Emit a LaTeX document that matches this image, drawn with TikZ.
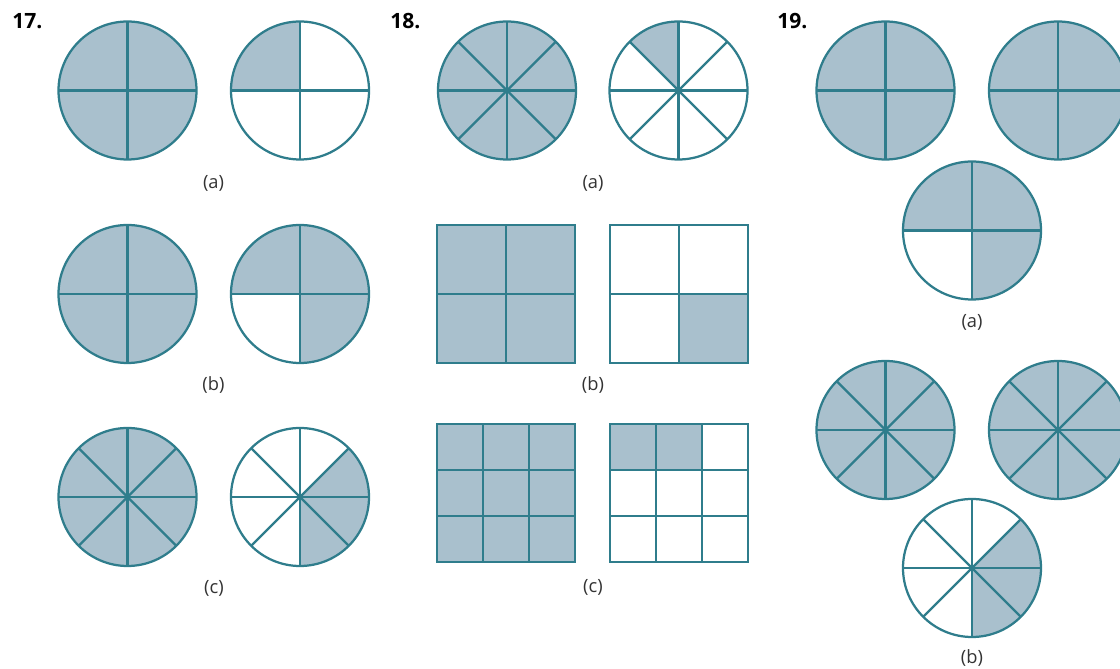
\documentclass[tikz,border=0pt]{standalone}
\usepackage{fontspec}
\setmainfont{Open Sans}
\definecolor{rim}{HTML}{2F7D8C}
\definecolor{part}{HTML}{A9C0CD}
\definecolor{lbl}{HTML}{333333}
\begin{document}
\begin{tikzpicture}[x=0.025cm, y=0.025cm,
    rim line/.style={draw=rim, line width=1.6pt},
    part fill/.style={fill=part},
    num/.style={font=\fontsize{15}{15}\selectfont\bfseries, text=black, anchor=west, inner sep=0pt},
    sub/.style={font=\fontsize{13}{13}\selectfont, text=lbl, inner sep=0pt} ]
    \useasboundingbox (0,0) rectangle (1120,669);
    \clip (0,0) rectangle (1120,669);
    % pies: centre / parts / shaded from / shaded to
    \foreach \cx/\cy/\k/\a/\b in {127.5/578.5/4/0/360, 300/578.5/4/90/180,
        127.5/375/4/0/360, 300/375/4/-90/180,
        127.5/172/8/0/360, 300/172/8/-90/45,
        507/578.5/8/0/360, 678.5/578.5/8/90/135,
        885.5/578.5/4/0/360, 1058/578.5/4/0/360, 972/438.5/4/-90/180,
        885.5/239/8/0/360, 1058/239/8/0/360, 972/101/8/-90/45} {
      \fill [part fill] (\cx,\cy) -- ++(\a:69) arc[start angle=\a, end angle=\b, radius=69] -- cycle;
      \foreach \i in {1,...,\k}
        \draw [rim line] (\cx,\cy) -- ++({360/\k*\i}:69);
      \draw [rim line] (\cx,\cy) circle (69);
    }
    % squares
    \fill [part fill] (437,306) rectangle (575,444);
    \fill [part fill] (679,306) rectangle (748,375);
    \fill [part fill] (437,107) rectangle (575,245);
    \fill [part fill] (610,199) rectangle (702,245);
    \draw [rim line, shift={(437,306)}] (0,0) grid[step=1.725cm] (138,138);
    \draw [rim line, shift={(610,306)}] (0,0) grid[step=1.725cm] (138,138);
    \draw [rim line, shift={(437,107)}] (0,0) grid[step=1.15cm] (138,138);
    \draw [rim line, shift={(610,107)}] (0,0) grid[step=1.15cm] (138,138);
    \draw [rim line] (437,306) rectangle (575,444);
    \draw [rim line] (610,306) rectangle (748,444);
    \draw [rim line] (437,107) rectangle (575,245);
    \draw [rim line] (610,107) rectangle (748,245);
    % numbers and labels
    \node at (12,648) [num] (n17) {17.};
    \node at (390,648) [num] (n18) {18.};
    \node at (777,648) [num] (n19) {19.};
    \node at (213.5,486) [sub] (a17) {(a)};
    \node at (213.5,284) [sub] (b17) {(b)};
    \node at (214,81) [sub] (c17) {(c)};
    \node at (593,486) [sub] (a18) {(a)};
    \node at (593,284) [sub] (b18) {(b)};
    \node at (593,82) [sub] (c18) {(c)};
    \node at (972,347) [sub] (a19) {(a)};
    \node at (972,11) [sub] (b19) {(b)};
\end{tikzpicture}
\end{document}
